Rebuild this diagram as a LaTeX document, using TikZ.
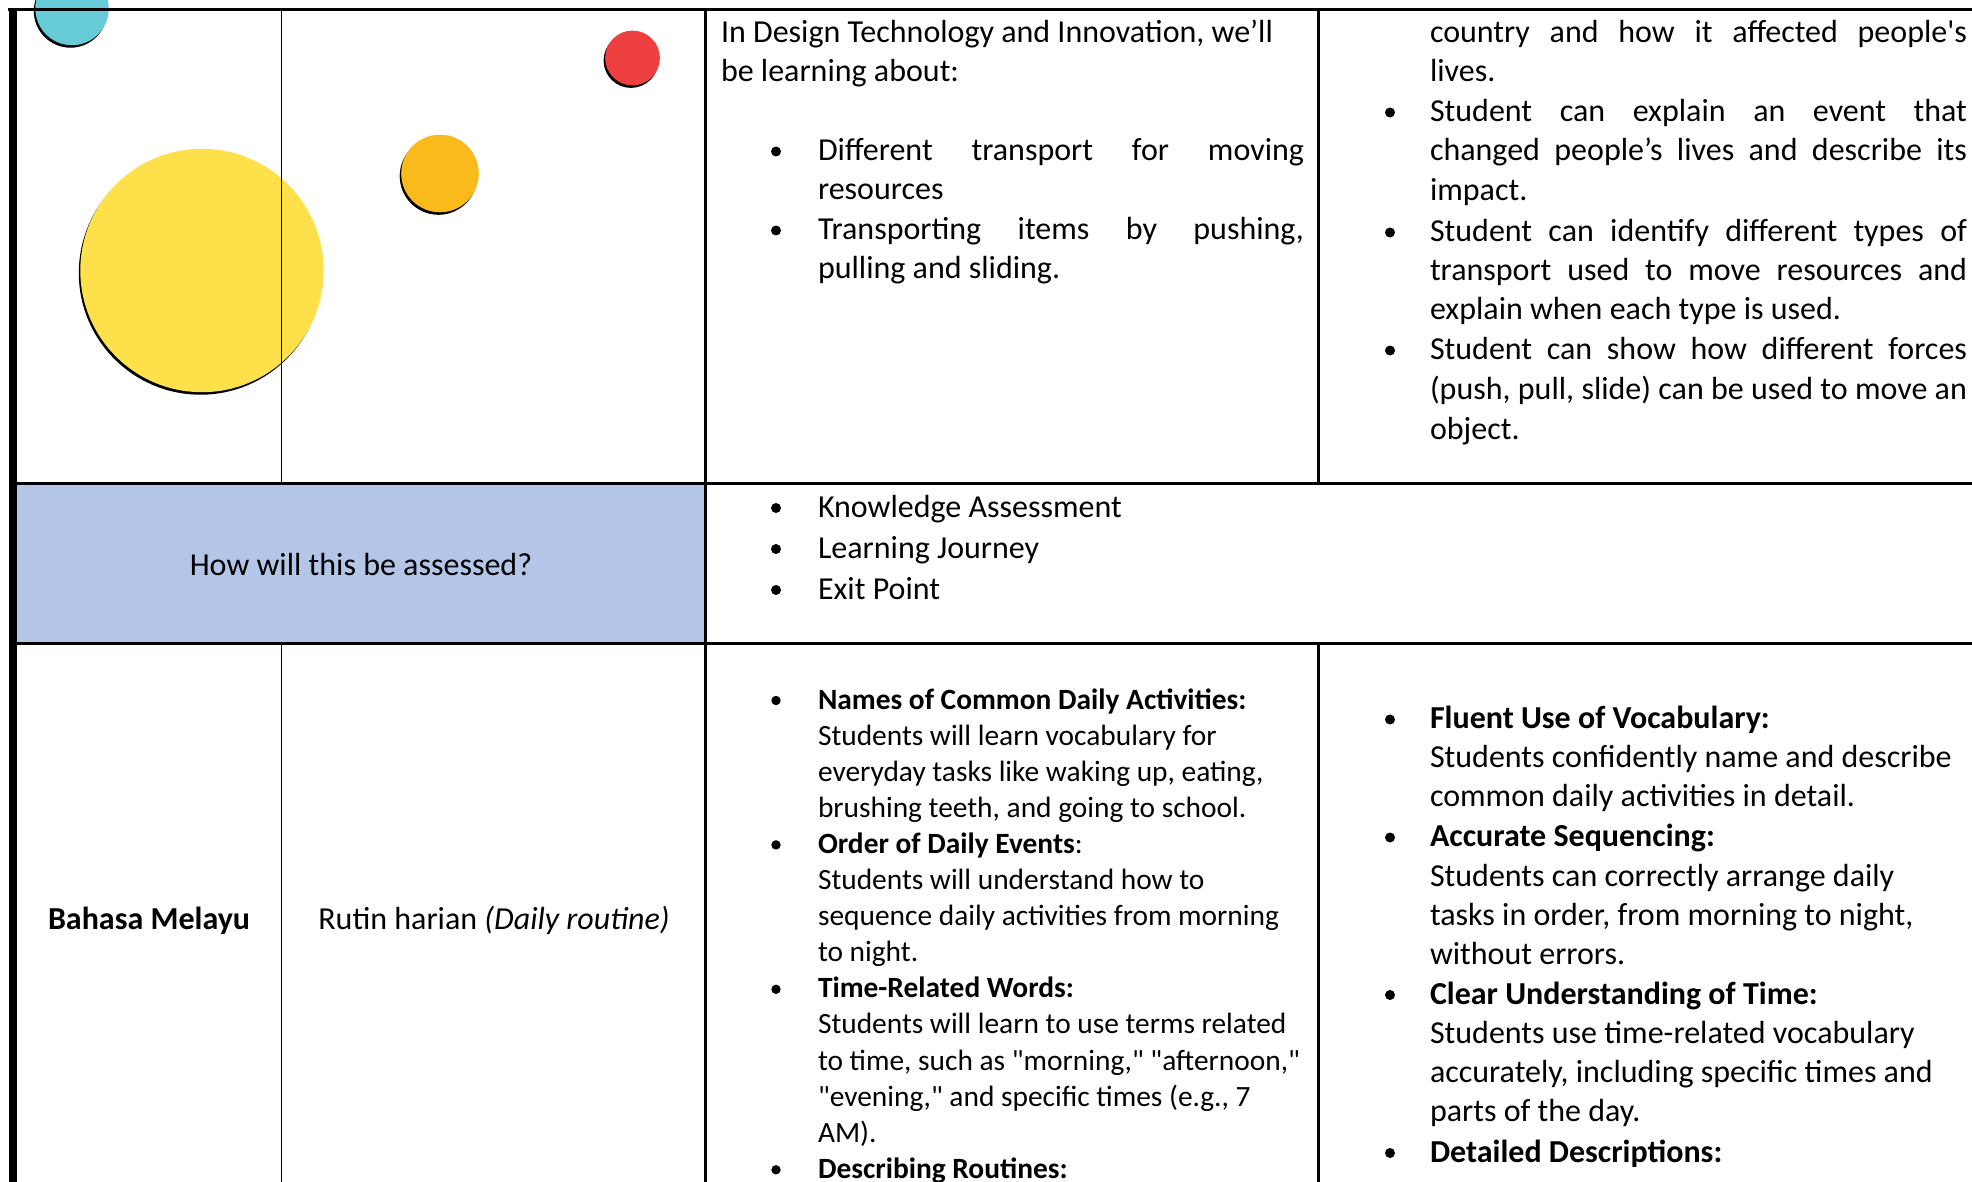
\documentclass[tikz,border=0pt]{standalone}
\usepackage{fontspec}
\setmainfont{Carlito}[Ligatures=TeXOff]
\definecolor{cellblue}{HTML}{B4C6E7}
\definecolor{dotcyan}{HTML}{66CBD7}
\definecolor{dotred}{HTML}{EE4040}
\definecolor{dotorange}{HTML}{FBBA1B}
\definecolor{dotyellow}{HTML}{FEE04B}
\newcommand{\jline}[2]{\makebox[#1][s]{#2}}
\begin{document}
\begin{tikzpicture}[x=1pt,y=-1pt,
  ln/.style={anchor=base west, inner sep=0pt, outer sep=0pt, font=\fontsize{32}{39}\selectfont},
  lns/.style={anchor=base west, inner sep=0pt, outer sep=0pt, font=\fontsize{29.4}{36}\selectfont},
  lc/.style={anchor=base, inner sep=0pt, outer sep=0pt, font=\fontsize{32}{39}\selectfont},
  bul/.style={circle, fill=black, draw=none, inner sep=0pt, minimum size=10pt},
  buls/.style={circle, fill=black, draw=none, inner sep=0pt, minimum size=9.4pt},
  hrule/.style={line width=3pt, black, line cap=rect},
  vrule/.style={line width=2.4pt, black},
  vthin/.style={line width=1.8pt, black}]
\useasboundingbox (0,0) rectangle (1972,1182);
\fill[white] (0,0) rectangle (1972,1182);
% shaded cell
\fill[cellblue] (17,483) rectangle (705,643);
% decorative dots with shadows
\fill[black] (70.5,11) circle (36.7pt);
\fill[dotcyan] (72,8.5) circle (36.7pt);
\fill[black] (438.5,176) circle (38.8pt);
\fill[dotorange] (440,173.5) circle (38.8pt);
\fill[black] (631,60.5) circle (27.4pt);
\fill[dotred] (632.5,58) circle (27.4pt);
\fill[black] (200.5,273) circle (121.7pt);
\fill[dotyellow] (202,270.5) circle (121.7pt);
% table rules
\draw[line width=8pt] (13.4,8) -- (13.4,1182);
\draw[hrule] (9.5,9.5) -- (1972,9.5);
\draw[hrule] (17,483) -- (1972,483);
\draw[hrule] (17,643) -- (1972,643);
\draw[vthin] (281.5,9.5) -- (281.5,483);
\draw[vthin] (281.5,643) -- (281.5,1182);
\draw[vrule] (705.5,9.5) -- (705.5,1182);
\draw[vrule] (1318.5,9.5) -- (1318.5,483);
\draw[vrule] (1318.5,643) -- (1318.5,1182);
% row 1, column 3
\node[ln] (d1) at (721,42.5) {In Design Technology and Innovation, we’ll};
\node[ln] (d2) at (721,81.5) {be learning about:};
\node[bul] (db1) at (776,151.5) {};
\node[ln] (d3) at (818,160.5) {\jline{486pt}{Different transport for moving}};
\node[ln] (d4) at (818,199.5) {resources};
\node[bul] (db2) at (776,230.5) {};
\node[ln] (d5) at (818,239.5) {\jline{486pt}{Transporting items by pushing,}};
\node[ln] (d6) at (818,278.5) {pulling and sliding.};
% row 1, column 4
\node[ln] (e1) at (1430,42.5) {\jline{537pt}{country and how it affected people's}};
\node[ln] (e2) at (1430,81.5) {lives.};
\node[bul] (eb1) at (1390,112.5) {};
\node[ln] (e3) at (1430,121.5) {\jline{537pt}{Student can explain an event that}};
\node[ln] (e4) at (1430,160.5) {\jline{537pt}{changed people’s lives and describe its}};
\node[ln] (e5) at (1430,200.5) {impact.};
\node[bul] (eb2) at (1390,232.5) {};
\node[ln] (e6) at (1430,241.5) {\jline{537pt}{Student can identify different types of}};
\node[ln] (e7) at (1430,280.5) {\jline{537pt}{transport used to move resources and}};
\node[ln] (e8) at (1430,319) {explain when each type is used.};
\node[bul] (eb3) at (1390,350.5) {};
\node[ln] (e9) at (1430,359.5) {\jline{537pt}{Student can show how different forces}};
\node[ln] (e10) at (1430,399.5) {\jline{537pt}{(push, pull, slide) can be used to move an}};
\node[ln] (e11) at (1430,439) {object.};
% row 2
\node[lc] (q) at (361,575) {How will this be assessed?};
\node[bul] (ab1) at (776,508) {};
\node[ln] (a1) at (818,517) {Knowledge Assessment};
\node[bul] (ab2) at (776,549) {};
\node[ln] (a2) at (818,558) {Learning Journey};
\node[bul] (ab3) at (776,590) {};
\node[ln] (a3) at (818,599) {Exit Point};
% row 3
\node[lc] (subj) at (149,929) {\bfseries Bahasa Melayu};
\node[lc] (topic) at (494,929) {Rutin harian \itshape(Daily routine)};
\node[buls] (mb1) at (776,700.5) {};
\node[lns] (m1) at (818,709) {\bfseries Names of Common Daily Activities:};
\node[lns] (m2) at (818,745.1) {Students will learn vocabulary for};
\node[lns] (m3) at (818,781.2) {everyday tasks like waking up, eating,};
\node[lns] (m4) at (818,817.3) {brushing teeth, and going to school.};
\node[buls] (mb2) at (776,844.9) {};
\node[lns] (m5) at (818,853.4) {{\bfseries Order of Daily Events}:};
\node[lns] (m6) at (818,889.5) {Students will understand how to};
\node[lns] (m7) at (818,925.6) {sequence daily activities from morning};
\node[lns] (m8) at (818,961.7) {to night.};
\node[buls] (mb3) at (776,989.3) {};
\node[lns] (m9) at (818,997.8) {\bfseries Time-Related Words:};
\node[lns] (m10) at (818,1033.9) {Students will learn to use terms related};
\node[lns] (m11) at (818,1070) {to time, such as "morning," "afternoon,"};
\node[lns] (m12) at (818,1106.1) {"evening," and specific times (e.g., 7};
\node[lns] (m13) at (818,1142.2) {AM).};
\node[buls] (mb4) at (776,1169.8) {};
\node[lns] (m14) at (818,1178.3) {\bfseries Describing Routines:};
\node[bul] (sb1) at (1390,719.5) {};
\node[ln] (s1) at (1430,728.5) {\bfseries Fluent Use of Vocabulary:};
\node[ln] (s2) at (1430,767) {Students confidently name and describe};
\node[ln] (s3) at (1430,806) {common daily activities in detail.};
\node[bul] (sb2) at (1390,837.5) {};
\node[ln] (s4) at (1430,846.5) {\bfseries Accurate Sequencing:};
\node[ln] (s5) at (1430,886) {Students can correctly arrange daily};
\node[ln] (s6) at (1430,925) {tasks in order, from morning to night,};
\node[ln] (s7) at (1430,964.5) {without errors.};
\node[bul] (sb3) at (1390,995) {};
\node[ln] (s8) at (1430,1004) {\bfseries Clear Understanding of Time:};
\node[ln] (s9) at (1430,1043) {Students use time-related vocabulary};
\node[ln] (s10) at (1430,1082.5) {accurately, including specific times and};
\node[ln] (s11) at (1430,1121) {parts of the day.};
\node[bul] (sb4) at (1390,1153) {};
\node[ln] (s12) at (1430,1162) {\bfseries Detailed Descriptions:};
\end{tikzpicture}
\end{document}
